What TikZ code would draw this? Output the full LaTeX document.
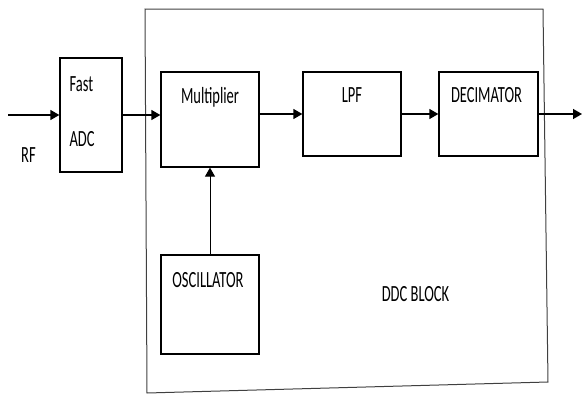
\documentclass[tikz,border=0pt]{standalone}
\usepackage{fontspec}
\setmainfont{Carlito}
\usetikzlibrary{positioning, arrows.meta}

\begin{document}
\begin{tikzpicture}[
    x=1pt, y=-1pt,
    % Estilos de nodos
    blk/.style={
        rectangle, draw=black, line width=1.3pt,
        inner sep=0pt
    },
    lbl/.style={
        font=\fontsize{14.5}{17}\selectfont, text=black,
        inner sep=0pt, yscale=1.6
    },
    arrow/.style={
        -{Triangle[length=9pt, width=10pt]}, line width=1.4pt, color=black
    },
    outline/.style={
        draw=black!75, line width=1pt
    }
]

\useasboundingbox (0,0) rectangle (582,394);

% ════════════════════════════════════════
% DDC BLOCK (contorno exterior)
% ════════════════════════════════════════
\coordinate (ddc nw) at (145,9);
\coordinate (ddc ne) at (543,9);
\coordinate (ddc se) at (548,382);
\coordinate (ddc sw) at (147,393);
\draw[outline] (ddc nw) -- (ddc ne) -- (ddc se) -- (ddc sw) -- cycle;

% ════════════════════════════════════════
% BLOQUES
% ════════════════════════════════════════
\node[blk, minimum width=62pt, minimum height=114pt] (adc)  at (91,115)    {};
\node[blk, minimum width=98pt, minimum height=95pt]  (mult) at (210,119.5) {};
\node[blk, minimum width=98pt, minimum height=84pt]  (lpf)  at (352,114)   {};
\node[blk, minimum width=99pt, minimum height=84pt]  (dec)  at (488.5,114) {};
\node[blk, minimum width=98pt, minimum height=99pt]  (osc)  at (210,304.5) {};

\coordinate (rf in) at (8,115);
\coordinate (out)   at (582,114);

% ════════════════════════════════════════
% FLECHAS
% ════════════════════════════════════════
\draw[arrow] (rf in)      -- (adc.west);
\draw[arrow] (adc.east)   -- (adc.east -| mult.west);
\draw[arrow] (mult.east |- lpf.west) -- (lpf.west);
\draw[arrow] (lpf.east)   -- (dec.west);
\draw[arrow] (dec.east)   -- (out);
% oscilador: trazo mas fino
\draw[arrow, line width=1pt] (osc.north) -- (mult.south);

% ════════════════════════════════════════
% ETIQUETAS
% ════════════════════════════════════════
\node[lbl, below right=19pt and 10pt of adc.north west] (fast)    {Fast};
\node[lbl, above right=26pt and 10pt of adc.south west] (adctxt)  {ADC};
\node[lbl, below right=32pt and 13pt of rf in]          (rf)      {RF};
\node[lbl, below=16pt of mult.north]                    (multtxt) {Multiplier};
\node[lbl, below=16pt of lpf.north]                     (lpftxt)  {LPF};
\node[lbl, below=16pt of dec.north, xshift=-2pt]        (dectxt)  {DECIMATOR};
\node[lbl, below=18pt of osc.north, xshift=-2pt]        (osctxt)  {OSCILLATOR};
\node[lbl] (ddctxt) at (415.5,294.5) {DDC BLOCK};

\end{tikzpicture}
\end{document}
